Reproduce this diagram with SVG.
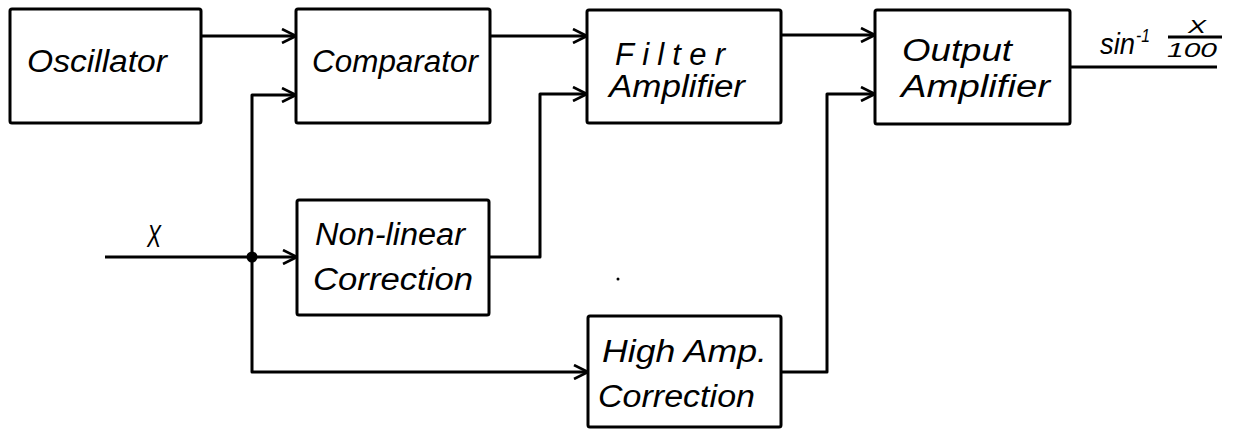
<svg xmlns="http://www.w3.org/2000/svg" width="1235" height="431" viewBox="0 0 1235 431">
<defs>
<style>
.box{fill:#fff;stroke:#000;stroke-width:3;}
.ln{fill:none;stroke:#000;stroke-width:3;stroke-linejoin:round;}
.t{font-family:"Liberation Sans",Arial,sans-serif;font-style:italic;font-size:31px;fill:#000;}
.s{font-family:"Liberation Sans",Arial,sans-serif;font-style:italic;fill:#000;}
</style>
<marker id="arr" viewBox="0 0 16 16" refX="15" refY="8" markerWidth="16" markerHeight="16" markerUnits="userSpaceOnUse" orient="auto">
<path d="M1,1 L15,8 L1,15" fill="none" stroke="#000" stroke-width="2.6" stroke-linejoin="miter"/>
</marker>
</defs>
<rect width="1235" height="431" fill="#fff"/>
<g id="connectors">
<path class="ln" d="M201,36 H296" marker-end="url(#arr)"/>
<path class="ln" d="M490,36 H587" marker-end="url(#arr)"/>
<path class="ln" d="M781,35 H875" marker-end="url(#arr)"/>
<path class="ln" d="M105,257 H297" marker-end="url(#arr)"/>
<path class="ln" d="M252,257 V95 H296" marker-end="url(#arr)"/>
<path class="ln" d="M252,257 V372 H588" marker-end="url(#arr)"/>
<path class="ln" d="M489,257 H540 V94 H587" marker-end="url(#arr)"/>
<path class="ln" d="M781,372 H827 V94 H875" marker-end="url(#arr)"/>
<path class="ln" d="M1070,67 H1217"/>
<circle cx="252" cy="257" r="5.5" fill="#000"/>
<circle cx="618" cy="279" r="1.5" fill="#000"/>
<text class="t" x="147" y="247" textLength="14" lengthAdjust="spacingAndGlyphs">X</text>
</g>
<g id="oscillator">
<rect class="box" x="10" y="9" width="191" height="114" rx="2"/>
<text class="t" x="27" y="72" textLength="140" lengthAdjust="spacingAndGlyphs">Oscillator</text>
</g>
<g id="comparator">
<rect class="box" x="296" y="9" width="194" height="114" rx="2"/>
<text class="t" x="312" y="72" textLength="166" lengthAdjust="spacingAndGlyphs">Comparator</text>
</g>
<g id="filter-amplifier">
<rect class="box" x="587" y="10" width="194" height="113" rx="2"/>
<text class="t" x="615" y="65" textLength="110" lengthAdjust="spacing">Filter</text>
<text class="t" x="609" y="97" textLength="136" lengthAdjust="spacingAndGlyphs">Amplifier</text>
</g>
<g id="output-amplifier">
<rect class="box" x="875" y="10" width="195" height="114" rx="2"/>
<text class="t" x="902" y="61" textLength="110" lengthAdjust="spacingAndGlyphs">Output</text>
<text class="t" x="901" y="97" textLength="149" lengthAdjust="spacingAndGlyphs">Amplifier</text>
</g>
<g id="nonlinear-correction">
<rect class="box" x="297" y="200" width="192" height="115" rx="2"/>
<text class="t" x="315" y="245" textLength="150" lengthAdjust="spacingAndGlyphs">Non-linear</text>
<text class="t" x="313" y="290" textLength="160" lengthAdjust="spacingAndGlyphs">Correction</text>
</g>
<g id="high-amp-correction">
<rect class="box" x="588" y="316" width="193" height="111" rx="2"/>
<text class="t" x="602" y="362" textLength="165" lengthAdjust="spacingAndGlyphs">High Amp.</text>
<text class="t" x="598" y="407" textLength="157" lengthAdjust="spacingAndGlyphs">Correction</text>
</g>
<g id="output-label">
<text class="s" x="1100" y="54" font-size="30" textLength="35" lengthAdjust="spacingAndGlyphs">sin</text>
<text class="s" x="1136" y="42" font-size="18" textLength="14" lengthAdjust="spacingAndGlyphs">-1</text>
<text class="s" x="1188" y="33" font-size="18" textLength="18" lengthAdjust="spacingAndGlyphs">X</text>
<path class="ln" d="M1168,37 H1222" stroke-width="2.5"/>
<text class="s" x="1167" y="57" font-size="20" textLength="50" lengthAdjust="spacingAndGlyphs">100</text>
</g>
</svg>
